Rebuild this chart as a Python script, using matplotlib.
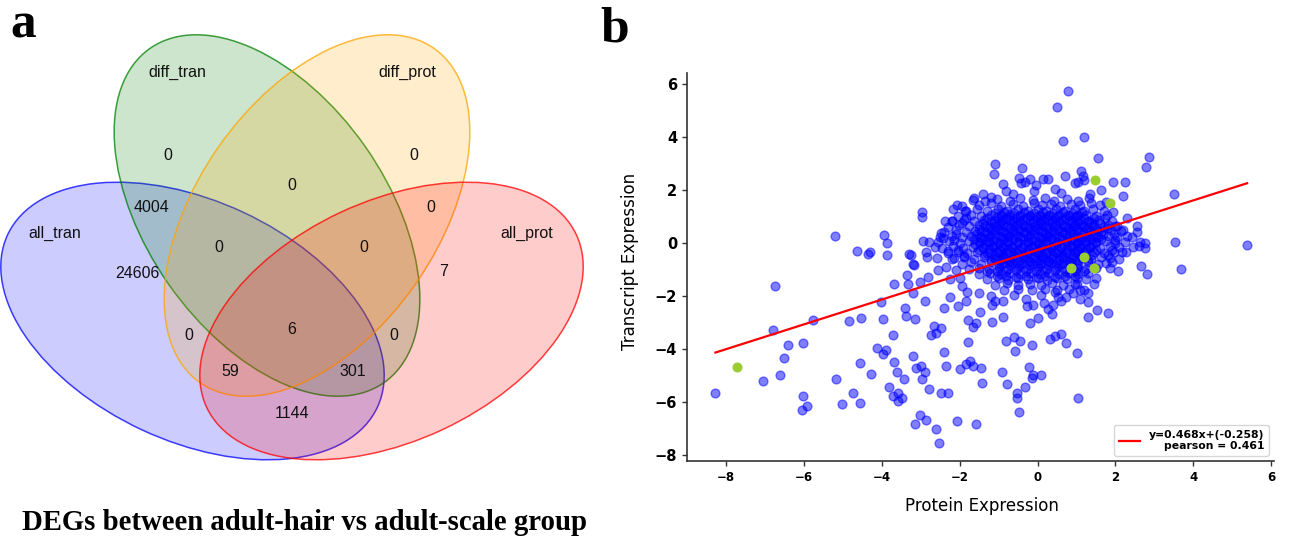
import matplotlib
matplotlib.use("Agg")

import matplotlib.pyplot as plt
import matplotlib.colors as mcolors
from matplotlib.patches import Ellipse
import numpy as np

# -----------------------------
# DATA: Venn panel
# -----------------------------
venn_names = ["all_tran", "diff_tran", "diff_prot", "all_prot"]
venn_colors = ["blue", "green", "orange", "red"]

# region code = membership in (all_tran, diff_tran, diff_prot, all_prot)
region_counts = {
    "1000": 24606, "0100": 0, "0010": 0, "0001": 7,
    "1100": 4004, "0110": 0, "0011": 0, "1010": 0, "0101": 0, "1001": 1144,
    "1110": 0, "0111": 0, "1011": 59, "1101": 301,
    "1111": 6,
}

# -----------------------------
# DATA: scatter panel
# -----------------------------
slope = 0.468
intercept = -0.258
pearson = 0.461

outlier_pts = [
    (-8.27, -5.65), (-7.04, -5.21), (-6.80, -3.28), (-6.73, -1.60), (-6.61, -4.99),
    (-6.50, -4.33), (-6.41, -3.83), (-6.03, -3.77), (-6.03, -5.76), (-6.06, -6.30),
    (-5.91, -6.14), (-5.77, -2.89), (-5.19, 0.28), (-5.17, -5.14), (-5.01, -6.06),
    (-4.83, -2.93), (-4.74, -5.65), (-4.64, -0.28), (-4.57, -6.05), (-4.55, -4.51),
    (-4.53, -2.81), (-4.36, -0.40), (-4.30, -0.35), (-4.27, -4.92), (-4.12, -3.94),
    (-4.01, -2.22), (-3.97, -4.19), (-3.97, -2.87), (-3.94, 0.29), (-3.88, -4.03),
    (-3.87, 0.00), (-3.87, -0.44), (-3.82, -5.42), (-3.71, -3.47), (-3.69, -4.47),
    (-3.71, -5.76), (-3.69, -1.54), (-3.62, -4.86), (-3.59, -5.64), (-3.59, -5.95),
    (-3.47, -5.85), (-3.43, -5.14), (-3.41, -2.43), (-3.37, -2.74), (-3.35, -1.20),
    (-3.32, -1.55), (-3.30, -0.42), (-3.26, -0.45), (-3.20, -4.25), (-3.20, -0.78),
    (-3.18, -0.84), (-3.20, -1.89), (-3.14, -6.81), (-3.13, -4.70), (-3.14, -2.87),
    (-3.03, -1.45), (-3.01, -6.50), (-2.98, -4.63), (-2.96, -5.11), (-2.96, 1.19),
    (-2.96, 1.00), (-2.94, 0.09), (-2.90, -4.86), (-2.90, -2.20), (-2.87, -6.66),
    (-2.87, -0.32), (-2.84, -0.53), (-2.81, -1.26), (-2.79, -5.51), (-2.78, 0.05),
    (-2.74, -3.47), (-2.66, -3.12), (-2.64, -0.13), (-2.61, -3.40), (-2.61, -7.02),
    (-2.58, -0.55), (-2.55, -1.03), (-2.54, -7.55), (-2.49, -3.22), (-2.49, -5.66),
    (-2.47, 0.38), (-2.43, 0.18), (-2.40, -4.10), (-2.40, -2.43), (-2.38, 0.82),
    (-2.36, -4.63), (-2.30, -5.66), (-2.25, -2.05), (-2.19, 0.85), (-2.17, 1.28),
    (-2.08, -6.71), (-2.08, 1.45), (-2.04, -2.37), (-2.00, -4.75), (-1.95, 1.40),
    (-1.87, 1.20), (-1.83, -4.57), (-1.83, -2.18), (-1.78, -2.91), (-1.78, -3.72),
    (-1.74, -4.45), (-1.66, -4.62), (-1.67, 1.61), (-1.66, -3.18), (-1.59, -3.00),
    (-1.57, -6.81), (-1.48, -2.59), (-1.46, -4.70), (-1.42, -5.27), (-1.18, -2.96),
    (-1.18, -2.33), (-1.09, -2.18), (-1.10, 3.00), (-1.12, 2.60), (-0.91, -4.86),
    (-0.90, 2.24), (-0.88, -2.77), (-0.80, -3.69), (-0.78, -5.30), (-0.60, -3.56),
    (-0.58, -4.06), (-0.54, -5.64), (-0.54, -5.84), (-0.47, -6.39), (-0.46, -3.69),
    (-0.39, 2.85), (-0.33, -5.42), (-0.28, -2.37), (-0.22, -4.67), (-0.20, -3.00),
    (-0.15, -3.85), (-0.15, -5.07), (-0.11, -4.97), (-0.11, -2.33), (0.02, -2.83),
    (0.10, -4.97), (0.16, -2.26), (0.27, -2.47), (0.32, -3.62), (0.36, -2.68),
    (0.40, -2.34), (0.46, -3.52), (0.51, 5.13), (0.53, -2.05), (0.59, -3.41),
    (0.66, 3.85), (0.73, -3.78), (0.74, -2.05), (0.77, 5.74), (1.00, -4.15),
    (1.04, -5.85), (1.09, -2.11), (1.20, 4.01), (1.29, -2.77), (1.29, -2.24),
    (1.53, -2.52), (1.56, 3.21), (1.82, -2.64), (2.78, 2.87), (2.85, 3.24),
    (3.51, 1.85), (3.54, 0.05), (3.68, -0.96), (5.38, -0.06),
]

fringe_pts = [
    (-0.48, 2.45), (-0.42, 2.27), (-0.32, 2.30), (-0.20, 2.42), (-0.82, 1.97),
    (-0.64, 1.85), (0.15, 2.42), (0.26, 2.42), (0.70, 2.55), (1.12, 2.72),
    (1.16, 2.55), (1.20, 2.40), (0.95, 2.28), (1.05, 2.30), (1.63, 2.00),
    (1.94, 2.31), (2.25, 2.29), (2.20, 1.78), (1.94, 1.17), (-1.40, 1.85),
    (-1.20, 1.75), (-0.10, 1.95), (0.45, 2.05), (0.60, 1.90), (1.35, 1.85),
    (1.75, 1.55), (-0.05, 2.20),
    (2.55, 0.63), (2.55, 0.41), (2.42, 0.25), (2.46, -0.15), (2.62, 0.05),
    (2.75, 0.02), (2.77, -0.18), (2.60, -0.12), (2.26, -0.32), (2.06, -1.06),
    (2.20, 0.50), (2.03, 0.63), (1.90, -0.70), (1.86, -0.95), (2.16, -0.32),
    (2.66, -0.85), (2.80, -1.18), (2.30, 0.95), (2.10, -0.60),
    (-1.50, -1.90), (-1.20, -2.00), (-0.60, -1.95), (0.10, -1.95), (0.45, -1.85),
    (0.90, -1.90), (1.20, -1.75), (1.45, -1.55), (1.50, -1.30), (1.30, -1.90),
    (-0.30, -2.10), (0.60, -2.20), (-0.90, -2.20), (1.00, -1.55),
    (-2.30, -0.30), (-2.20, -0.60), (-2.35, -0.90), (-2.10, -1.00), (-2.00, -1.30),
    (-1.95, -1.60), (-2.25, -1.35), (-1.80, -1.85),
]

core_outer_pts = [
    (-1.62, 1.70), (-1.35, 1.60), (-1.05, 1.68), (-0.72, 1.58), (-0.45, 1.72), (-0.12, 1.62),
    (0.18, 1.70), (0.42, 1.58), (0.75, 1.66), (1.05, 1.60), (1.32, 1.71),
    (-1.50, 1.42), (-1.20, 1.50), (-0.95, 1.40), (-0.62, 1.48), (-0.38, 1.41), (-0.10, 1.50),
    (0.12, 1.43), (0.35, 1.49), (0.58, 1.40), (0.85, 1.47), (1.10, 1.42), (1.38, 1.50), (1.60, 1.44),
    (-1.85, 1.22), (-1.55, 1.28), (-1.30, 1.20), (-1.02, 1.27), (-0.78, 1.21), (-0.50, 1.29),
    (-0.25, 1.22), (0.00, 1.28), (0.22, 1.20), (0.48, 1.27), (0.70, 1.22), (0.95, 1.29),
    (1.18, 1.21), (1.42, 1.27), (1.70, 1.22),
    (-2.05, 1.02), (-1.72, 1.08), (-1.45, 1.01), (-1.20, 1.07), (-0.95, 1.03), (-0.70, 1.09),
    (-0.45, 1.02), (-0.20, 1.07), (0.05, 1.01), (0.30, 1.08), (0.52, 1.03), (0.78, 1.07),
    (1.00, 1.02), (1.25, 1.08), (1.50, 1.03), (1.78, 1.06),
    (-2.20, 0.83), (-1.90, 0.88), (-1.62, 0.82), (-1.38, 0.87), (-1.12, 0.83), (-0.88, 0.88),
    (-0.62, 0.82), (-0.38, 0.87), (-0.12, 0.83), (0.12, 0.88), (0.38, 0.82), (0.60, 0.87),
    (0.85, 0.83), (1.08, 0.88), (1.32, 0.82), (1.58, 0.87), (1.90, 0.84),
    (-2.30, 0.62), (-2.02, 0.68), (-1.75, 0.63), (-1.50, 0.67), (-1.25, 0.62), (-1.00, 0.68),
    (-0.75, 0.63), (-0.50, 0.67), (-0.25, 0.62), (0.00, 0.68), (0.25, 0.63), (0.48, 0.67),
    (0.72, 0.62), (0.95, 0.68), (1.20, 0.63), (1.45, 0.67), (1.70, 0.62), (2.00, 0.66),
    (-2.40, 0.43), (-2.10, 0.48), (-1.85, 0.42), (-1.60, 0.47), (-1.35, 0.43), (-1.10, 0.48),
    (-0.85, 0.42), (-0.60, 0.47), (-0.35, 0.43), (-0.10, 0.48), (0.15, 0.42), (0.40, 0.47),
    (0.62, 0.43), (0.88, 0.48), (1.12, 0.42), (1.38, 0.47), (1.62, 0.43), (1.88, 0.48), (2.15, 0.44),
    (-2.50, 0.22), (-2.20, 0.28), (-1.95, 0.23), (-1.70, 0.27), (-1.45, 0.22), (-1.20, 0.28),
    (-0.95, 0.23), (-0.70, 0.27), (-0.45, 0.22), (-0.20, 0.28), (0.05, 0.23), (0.30, 0.27),
    (0.55, 0.22), (0.80, 0.28), (1.05, 0.23), (1.30, 0.27), (1.55, 0.22), (1.80, 0.28),
    (2.05, 0.23), (2.30, 0.26),
    (-2.55, 0.03), (-2.28, 0.08), (-2.00, 0.02), (-1.75, 0.07), (-1.50, 0.03), (-1.25, 0.08),
    (-1.00, 0.02), (-0.75, 0.07), (-0.50, 0.03), (-0.25, 0.08), (0.00, 0.02), (0.25, 0.07),
    (0.50, 0.03), (0.75, 0.08), (1.00, 0.02), (1.25, 0.07), (1.50, 0.03), (1.75, 0.08),
    (2.00, 0.02), (2.25, 0.06),
    (-2.45, -0.17), (-2.18, -0.12), (-1.92, -0.18), (-1.65, -0.13), (-1.40, -0.17), (-1.15, -0.12),
    (-0.90, -0.18), (-0.65, -0.13), (-0.40, -0.17), (-0.15, -0.12), (0.10, -0.18), (0.35, -0.13),
    (0.60, -0.17), (0.85, -0.12), (1.10, -0.18), (1.35, -0.13), (1.60, -0.17), (1.85, -0.12),
    (2.10, -0.16),
    (-2.30, -0.37), (-2.05, -0.32), (-1.80, -0.38), (-1.55, -0.33), (-1.30, -0.37), (-1.05, -0.32),
    (-0.80, -0.38), (-0.55, -0.33), (-0.30, -0.37), (-0.05, -0.32), (0.20, -0.38), (0.45, -0.33),
    (0.70, -0.37), (0.95, -0.32), (1.20, -0.38), (1.45, -0.33), (1.70, -0.37), (1.95, -0.34),
    (-2.15, -0.57), (-1.88, -0.52), (-1.62, -0.58), (-1.38, -0.53), (-1.12, -0.57), (-0.88, -0.52),
    (-0.62, -0.58), (-0.38, -0.53), (-0.12, -0.57), (0.12, -0.52), (0.38, -0.58), (0.62, -0.53),
    (0.88, -0.57), (1.12, -0.52), (1.38, -0.58), (1.62, -0.53), (1.85, -0.56),
    (-1.95, -0.77), (-1.70, -0.72), (-1.45, -0.78), (-1.20, -0.73), (-0.95, -0.77), (-0.70, -0.72),
    (-0.45, -0.78), (-0.20, -0.73), (0.05, -0.77), (0.30, -0.72), (0.55, -0.78), (0.80, -0.73),
    (1.05, -0.77), (1.30, -0.72), (1.55, -0.78), (1.75, -0.74),
    (-1.75, -0.97), (-1.50, -0.92), (-1.25, -0.98), (-1.00, -0.93), (-0.75, -0.97), (-0.50, -0.92),
    (-0.25, -0.98), (0.00, -0.93), (0.25, -0.97), (0.50, -0.92), (0.75, -0.98), (1.00, -0.93),
    (1.25, -0.97), (1.50, -0.92),
    (-1.50, -1.17), (-1.22, -1.12), (-0.95, -1.18), (-0.70, -1.13), (-0.45, -1.17), (-0.20, -1.12),
    (0.05, -1.18), (0.30, -1.13), (0.55, -1.17), (0.80, -1.12), (1.05, -1.18), (1.30, -1.13),
    (-1.30, -1.37), (-1.00, -1.32), (-0.75, -1.38), (-0.50, -1.33), (-0.25, -1.37), (0.00, -1.32),
    (0.25, -1.38), (0.50, -1.33), (0.75, -1.37), (1.00, -1.32), (1.25, -1.36),
    (-1.10, -1.57), (-0.78, -1.52), (-0.50, -1.58), (-0.20, -1.53), (0.10, -1.57), (0.38, -1.52),
    (0.65, -1.58), (0.95, -1.54),
    (-0.85, -1.77), (-0.50, -1.72), (-0.15, -1.78), (0.20, -1.73), (0.50, -1.77), (0.80, -1.72),
    (1.10, -1.76),
]

core_inner_pts = [
    (-1.10, 1.15), (-0.85, 1.17), (-0.60, 1.13), (-0.35, 1.16), (-0.10, 1.14), (0.15, 1.17),
    (0.40, 1.13), (0.65, 1.16), (0.90, 1.14), (1.15, 1.16),
    (-1.30, 0.95), (-1.05, 0.97), (-0.80, 0.93), (-0.55, 0.96), (-0.30, 0.94), (-0.05, 0.97),
    (0.20, 0.93), (0.45, 0.96), (0.70, 0.94), (0.95, 0.97), (1.20, 0.93), (1.45, 0.95),
    (-1.40, 0.75), (-1.12, 0.77), (-0.88, 0.73), (-0.62, 0.76), (-0.38, 0.74), (-0.12, 0.77),
    (0.12, 0.73), (0.38, 0.76), (0.62, 0.74), (0.88, 0.77), (1.12, 0.73), (1.38, 0.76), (1.60, 0.75),
    (-1.50, 0.55), (-1.22, 0.57), (-0.98, 0.53), (-0.72, 0.56), (-0.48, 0.54), (-0.22, 0.57),
    (0.02, 0.53), (0.28, 0.56), (0.52, 0.54), (0.78, 0.57), (1.02, 0.53), (1.28, 0.56),
    (1.52, 0.54), (1.78, 0.56),
    (-1.58, 0.35), (-1.32, 0.37), (-1.08, 0.33), (-0.82, 0.36), (-0.58, 0.34), (-0.32, 0.37),
    (-0.08, 0.33), (0.18, 0.36), (0.42, 0.34), (0.68, 0.37), (0.92, 0.33), (1.18, 0.36),
    (1.42, 0.34), (1.68, 0.36),
    (-1.62, 0.15), (-1.38, 0.17), (-1.12, 0.13), (-0.88, 0.16), (-0.62, 0.14), (-0.38, 0.17),
    (-0.12, 0.13), (0.12, 0.16), (0.38, 0.14), (0.62, 0.17), (0.88, 0.13), (1.12, 0.16),
    (1.38, 0.14), (1.62, 0.16),
    (-1.60, -0.05), (-1.35, -0.03), (-1.10, -0.07), (-0.85, -0.04), (-0.60, -0.06), (-0.35, -0.03),
    (-0.10, -0.07), (0.15, -0.04), (0.40, -0.06), (0.65, -0.03), (0.90, -0.07), (1.15, -0.04),
    (1.40, -0.05),
    (-1.50, -0.25), (-1.25, -0.23), (-1.00, -0.27), (-0.75, -0.24), (-0.50, -0.26), (-0.25, -0.23),
    (0.00, -0.27), (0.25, -0.24), (0.50, -0.26), (0.75, -0.23), (1.00, -0.27), (1.25, -0.24),
    (1.50, -0.25),
    (-1.35, -0.45), (-1.10, -0.43), (-0.85, -0.47), (-0.60, -0.44), (-0.35, -0.46), (-0.10, -0.43),
    (0.15, -0.47), (0.40, -0.44), (0.65, -0.46), (0.90, -0.43), (1.15, -0.47), (1.40, -0.45),
    (-1.20, -0.65), (-0.95, -0.63), (-0.70, -0.67), (-0.45, -0.64), (-0.20, -0.66), (0.05, -0.63),
    (0.30, -0.67), (0.55, -0.64), (0.80, -0.66), (1.05, -0.63), (1.30, -0.65),
    (-1.00, -0.85), (-0.72, -0.83), (-0.48, -0.87), (-0.22, -0.84), (0.02, -0.86), (0.28, -0.83),
    (0.52, -0.87), (0.78, -0.84), (1.02, -0.85),
]

core_dense_pts = [
    (-0.95, 1.05), (-0.70, 1.04), (-0.45, 1.06), (-0.20, 1.03), (0.05, 1.06), (0.30, 1.04),
    (0.55, 1.06), (0.80, 1.03), (1.05, 1.05),
    (-1.20, 0.85), (-0.95, 0.84), (-0.70, 0.86), (-0.45, 0.83), (-0.20, 0.86), (0.05, 0.84),
    (0.30, 0.86), (0.55, 0.83), (0.80, 0.86), (1.05, 0.84), (1.30, 0.85),
    (-1.35, 0.65), (-1.10, 0.64), (-0.85, 0.66), (-0.60, 0.63), (-0.35, 0.66), (-0.10, 0.64),
    (0.15, 0.66), (0.40, 0.63), (0.65, 0.66), (0.90, 0.64), (1.15, 0.66), (1.40, 0.64),
    (-1.45, 0.45), (-1.20, 0.44), (-0.95, 0.46), (-0.70, 0.43), (-0.45, 0.46), (-0.20, 0.44),
    (0.05, 0.46), (0.30, 0.43), (0.55, 0.46), (0.80, 0.44), (1.05, 0.46), (1.30, 0.44), (1.55, 0.45),
    (-1.48, 0.25), (-1.25, 0.24), (-1.00, 0.26), (-0.75, 0.23), (-0.50, 0.26), (-0.25, 0.24),
    (0.00, 0.26), (0.25, 0.23), (0.50, 0.26), (0.75, 0.24), (1.00, 0.26), (1.25, 0.24), (1.50, 0.25),
    (-1.48, 0.05), (-1.25, 0.04), (-1.00, 0.06), (-0.75, 0.03), (-0.50, 0.06), (-0.25, 0.04),
    (0.00, 0.06), (0.25, 0.03), (0.50, 0.06), (0.75, 0.04), (1.00, 0.06), (1.25, 0.04), (1.50, 0.05),
    (-1.40, -0.15), (-1.15, -0.16), (-0.90, -0.14), (-0.65, -0.17), (-0.40, -0.14), (-0.15, -0.16),
    (0.10, -0.14), (0.35, -0.17), (0.60, -0.14), (0.85, -0.16), (1.10, -0.14), (1.35, -0.15),
    (-1.25, -0.35), (-1.00, -0.36), (-0.75, -0.34), (-0.50, -0.37), (-0.25, -0.34), (0.00, -0.36),
    (0.25, -0.34), (0.50, -0.37), (0.75, -0.34), (1.00, -0.36), (1.25, -0.35),
    (-1.10, -0.55), (-0.85, -0.56), (-0.60, -0.54), (-0.35, -0.57), (-0.10, -0.54), (0.15, -0.56),
    (0.40, -0.54), (0.65, -0.57), (0.90, -0.54), (1.15, -0.55),
    (-0.90, -0.75), (-0.65, -0.76), (-0.40, -0.74), (-0.15, -0.77), (0.10, -0.74), (0.35, -0.76),
    (0.60, -0.74), (0.85, -0.76),
    (-1.30, -1.05), (-1.05, -1.04), (-0.80, -1.06), (-0.55, -1.03), (-0.30, -1.06), (-0.05, -1.04),
    (0.20, -1.06), (0.45, -1.03), (0.70, -1.06), (0.95, -1.04), (1.20, -1.05),
    (-1.05, -1.25), (-0.80, -1.24), (-0.55, -1.26), (-0.30, -1.23), (-0.05, -1.26), (0.20, -1.24),
    (0.45, -1.26), (0.70, -1.23), (0.95, -1.25),
    (1.72, 0.95), (1.82, 0.70), (1.95, 0.35), (1.98, 0.12), (1.92, -0.25), (1.80, -0.45),
    (-1.85, 0.95), (-1.95, 0.75), (-2.10, 0.35), (-2.15, 0.12), (-2.05, -0.25), (-1.90, -0.50),
]

highlight_pts = [(-7.71, -4.68), (1.47, 2.37), (1.86, 1.52), (1.18, -0.53), (0.85, -0.93), (1.44, -0.94)]

# -----------------------------
# FIGURE + full-size canvas (pixel coords) for panel a
# -----------------------------
fig = plt.figure(figsize=(12.9, 5.36), dpi=100)
canvas = fig.add_axes([0, 0, 1, 1])
canvas.set_xlim(0, 1290)
canvas.set_ylim(536, 0)
canvas.axis("off")

# ellipse centre (x, y) and angle, all same size
ellipse_geom = {
    "all_tran": (192.5, 321, 25),
    "diff_tran": (267, 215.5, 55),
    "diff_prot": (317, 215.5, -55),
    "all_prot": (391.5, 321, -25),
}
for name, color in zip(venn_names, venn_colors):
    cx, cy, ang = ellipse_geom[name]
    canvas.add_patch(Ellipse((cx, cy), 408, 240, angle=ang,
                             facecolor=mcolors.to_rgba(color, 0.2),
                             edgecolor=mcolors.to_rgba(color, 0.75),
                             linewidth=1.1))

region_pos = {
    "0100": (168, 155), "0010": (414, 155), "0110": (292, 186),
    "1100": (152, 207), "0011": (431, 207), "1110": (219, 247),
    "0111": (364, 247), "1000": (137, 273), "0001": (444, 272),
    "1010": (189, 335), "1111": (292, 330), "0101": (394, 335),
    "1011": (230, 372), "1101": (353, 372), "1001": (292, 413),
}
for code, count in region_counts.items():
    x, y = region_pos[code]
    canvas.text(x, y, str(count), ha="center", va="center",
                fontsize=11.5, family="Liberation Sans", color="#111111")

name_pos = {"all_tran": (55, 233), "diff_tran": (177, 72),
            "diff_prot": (407, 72), "all_prot": (527, 233)}
for name in venn_names:
    x, y = name_pos[name]
    canvas.text(x, y, name, ha="center", va="center",
                fontsize=11.5, family="Liberation Sans", color="#111111")

canvas.text(10, 37, "a", fontsize=37, fontweight="bold",
            family="Liberation Serif", va="baseline", ha="left")
canvas.text(600, 42, "b", fontsize=37, fontweight="bold",
            family="Liberation Serif", va="baseline", ha="left")
canvas.text(22, 530, "DEGs between adult-hair vs adult-scale group",
            fontsize=20.7, fontweight="bold", family="Liberation Serif",
            va="baseline", ha="left")

# -----------------------------
# SCATTER PANEL
# -----------------------------
ax = fig.add_axes([687 / 1290, (536 - 461) / 536, (1274 - 687) / 1290, (461 - 72.7) / 536])

blue_pts = outlier_pts + fringe_pts + core_outer_pts + core_inner_pts + core_dense_pts
bx = np.array([p[0] for p in blue_pts])
by = np.array([p[1] for p in blue_pts])
gx = [p[0] for p in highlight_pts]
gy = [p[1] for p in highlight_pts]

ax.scatter(bx, by, s=40, color="blue", alpha=0.5, linewidths=1.0, zorder=2)

line_x = np.array([bx.min(), bx.max()])
ax.plot(line_x, slope * line_x + intercept, color="red", linewidth=1.6, zorder=3,
        label="y={:.3f}x+({:.3f})\npearson = {:.3f}".format(slope, intercept, pearson))

ax.scatter(gx, gy, s=52, color="yellowgreen", linewidths=0, zorder=4)

ax.set_xlim(-9.0, 6.07)
ax.set_ylim(-8.22, 6.43)
ax.set_xticks(range(-8, 7, 2))
ax.set_yticks(range(-8, 7, 2))

for side in ["top", "right"]:
    ax.spines[side].set_visible(False)
for side in ["left", "bottom"]:
    ax.spines[side].set_linewidth(1.2)
    ax.spines[side].set_color("#333333")

ax.tick_params(axis="both", length=3.5, width=1.0, color="#333333")
ax.tick_params(axis="x", labelsize=8.5)
ax.tick_params(axis="y", labelsize=10.5)
for lbl in ax.get_xticklabels() + ax.get_yticklabels():
    lbl.set_fontweight("bold")

ax.set_xlabel("Protein Expression", fontsize=12)
ax.set_ylabel("Transcript Expression", fontsize=12)
ax.xaxis.set_label_coords(0.502, -0.092)
ax.yaxis.set_label_coords(-0.082, 0.514)

leg = ax.legend(loc="lower right", prop={"size": 7.8, "weight": "bold"})
for t in leg.get_texts():
    t.set_multialignment("right")

fig.savefig("out.png", dpi=100)
